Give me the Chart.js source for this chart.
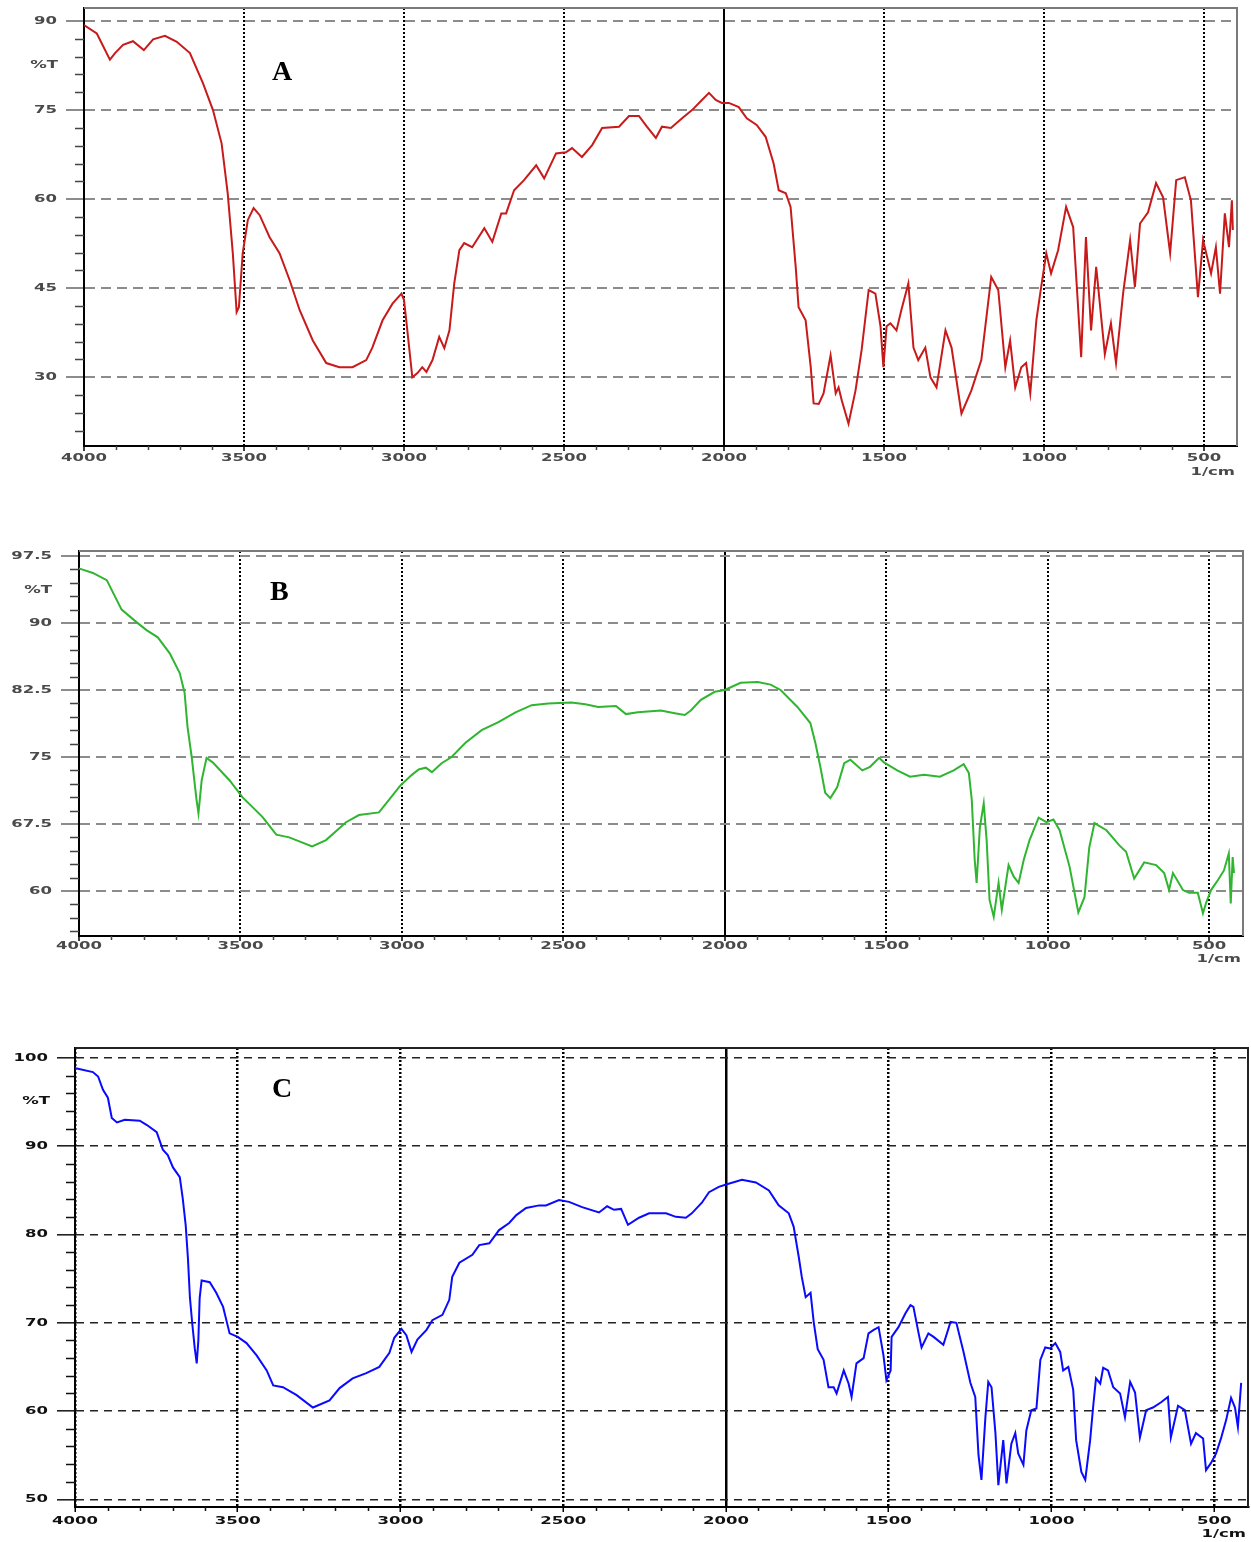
<!DOCTYPE html>
<html>
<head>
<meta charset="utf-8">
<title>FTIR spectra A, B, C</title>
<script src="https://cdn.jsdelivr.net/npm/chart.js@4.4.0/dist/chart.umd.min.js"></script>
<style>
  html, body { margin: 0; padding: 0; background: #fff; }
  body { position: relative; width: 1251px; height: 1542px; overflow: hidden; }
  canvas { position: absolute; left: 0; }
</style>
</head>
<body>
<canvas id="chartA" width="1251" height="483" style="top:0px"></canvas>
<canvas id="chartB" width="1251" height="430" style="top:540px"></canvas>
<canvas id="chartC" width="1251" height="502" style="top:1040px"></canvas>
<script>
// tick labels
const xTicks = [500, 1000, 1500, 2000, 2500, 3000, 3500, 4000];
const yTicksA = [30, 45, 60, 75, 90];
const yTicksB = [60, 67.5, 75, 82.5, 90, 97.5];
const yTicksC = [50, 60, 70, 80, 90, 100];

// spectrum A (wavenumber, %T)
const wnA = [4000, 3960, 3919, 3903, 3878, 3847, 3813, 3784, 3747, 3710, 3669, 3628, 3597, 3570, 3551, 3535, 3523, 3516, 3504, 3488,
  3470, 3451, 3420, 3389, 3357, 3326, 3285, 3243, 3202, 3161, 3118, 3099, 3067, 3036, 3008, 3000, 2993, 2974, 2958, 2943,
  2930, 2911, 2890, 2874, 2858, 2843, 2827, 2812, 2787, 2749, 2724, 2696, 2681, 2656, 2625, 2587, 2562, 2525, 2494, 2475,
  2444, 2412, 2381, 2328, 2297, 2266, 2241, 2213, 2194, 2166, 2132, 2100, 2069, 2047, 2026, 2007, 1985, 1954, 1929, 1898,
  1870, 1845, 1829, 1807, 1792, 1776, 1767, 1745, 1729, 1720, 1704, 1689, 1667, 1651, 1642, 1632, 1611, 1589, 1570, 1548,
  1527, 1511, 1502, 1492, 1480, 1461, 1446, 1424, 1408, 1393, 1371, 1355, 1336, 1308, 1289, 1258, 1227, 1196, 1165, 1143,
  1121, 1106, 1090, 1071, 1056, 1043, 1024, 1009, 993, 978, 956, 931, 909, 884, 869, 853, 837, 810, 791, 775,
  753, 731, 716, 700, 675, 650, 628, 606, 587, 560, 541, 519, 503, 478, 463, 450, 435, 422, 413, 410];
const tA = [89.3, 87.9, 83.5, 84.6, 86.0, 86.6, 85.1, 86.9, 87.5, 86.5, 84.6, 79.5, 75.0, 69.4, 61.0, 50.9, 41.0, 41.8, 50.9, 56.5,
  58.5, 57.3, 53.6, 50.9, 46.3, 41.3, 36.2, 32.4, 31.7, 31.7, 32.9, 35.0, 39.6, 42.4, 44.1, 43.0, 39.6, 30.0, 30.7, 31.7,
  30.9, 32.9, 36.8, 34.9, 37.9, 45.8, 51.4, 52.6, 51.9, 55.1, 52.8, 57.6, 57.6, 61.5, 63.2, 65.7, 63.5, 67.7, 67.9, 68.6,
  67.1, 69.1, 72.0, 72.2, 74.0, 74.0, 72.2, 70.3, 72.2, 72.0, 73.6, 75.0, 76.7, 77.9, 76.7, 76.2, 76.2, 75.5, 73.6, 72.5,
  70.5, 66.0, 61.5, 61.0, 58.7, 48.6, 41.8, 39.6, 31.7, 25.6, 25.5, 27.3, 33.7, 27.3, 28.3, 26.1, 22.2, 27.8, 34.6, 44.7,
  44.1, 38.6, 31.7, 38.6, 39.1, 37.9, 41.3, 45.8, 35.0, 32.9, 35.0, 30.0, 28.3, 37.9, 35.0, 23.9, 27.8, 32.9, 46.9, 44.7,
  31.7, 36.2, 28.3, 31.7, 32.4, 27.3, 39.6, 45.2, 50.9, 47.5, 51.4, 58.7, 55.3, 33.4, 53.6, 37.9, 48.6, 33.9, 39.1, 32.4,
  44.1, 53.1, 45.2, 55.9, 57.8, 62.7, 60.3, 50.9, 63.2, 63.7, 59.8, 43.5, 53.1, 47.5, 51.9, 44.1, 57.6, 51.9, 59.8, 54.8];

// spectrum B
const wnB = [4000, 3991, 3957, 3914, 3868, 3822, 3791, 3756, 3719, 3688, 3673, 3664, 3651, 3636, 3630, 3620, 3605, 3586, 3534, 3494,
  3432, 3389, 3349, 3278, 3235, 3173, 3133, 3071, 3040, 3005, 2969, 2948, 2926, 2907, 2877, 2846, 2803, 2753, 2701, 2648,
  2598, 2547, 2475, 2432, 2392, 2337, 2306, 2269, 2198, 2155, 2124, 2105, 2074, 2031, 2000, 1951, 1898, 1858, 1827, 1775,
  1735, 1719, 1704, 1689, 1673, 1652, 1630, 1611, 1574, 1550, 1522, 1507, 1466, 1426, 1383, 1334, 1291, 1260, 1244, 1235,
  1226, 1220, 1210, 1198, 1189, 1180, 1167, 1152, 1142, 1121, 1105, 1090, 1074, 1056, 1028, 1004, 982, 963, 932, 905,
  886, 871, 855, 818, 778, 757, 732, 701, 664, 639, 624, 612, 581, 562, 535, 519, 510, 494, 473, 454,
  439, 433, 427, 423];
const tB = [96.1, 96.0, 95.6, 94.8, 91.5, 90.1, 89.2, 88.4, 86.6, 84.4, 82.2, 78.4, 75.0, 70.2, 68.7, 72.4, 74.9, 74.4, 72.4, 70.5,
  68.3, 66.3, 66.0, 65.0, 65.7, 67.7, 68.5, 68.8, 70.2, 71.8, 73.0, 73.6, 73.8, 73.3, 74.3, 75.0, 76.6, 78.0, 78.9, 80.0,
  80.8, 81.0, 81.1, 80.9, 80.6, 80.7, 79.8, 80.0, 80.2, 79.9, 79.7, 80.2, 81.4, 82.3, 82.5, 83.3, 83.4, 83.1, 82.5, 80.6,
  78.8, 76.5, 73.9, 71.0, 70.4, 71.6, 74.3, 74.7, 73.5, 73.9, 74.9, 74.4, 73.5, 72.8, 73.0, 72.8, 73.5, 74.2, 73.2, 70.2,
  63.5, 60.9, 67.1, 69.8, 65.7, 59.0, 57.1, 60.9, 57.9, 62.9, 61.6, 60.9, 63.5, 65.7, 68.2, 67.7, 68.0, 66.8, 62.7, 57.6,
  59.3, 64.9, 67.6, 66.8, 65.1, 64.4, 61.4, 63.2, 62.9, 62.0, 60.1, 62.0, 60.1, 59.8, 59.8, 57.5, 58.6, 60.1, 61.2, 62.3,
  64.2, 58.6, 63.8, 62.0];

// spectrum C
const wnC = [4000, 3994, 3945, 3929, 3914, 3899, 3887, 3871, 3847, 3801, 3779, 3749, 3730, 3715, 3699, 3678, 3669, 3660, 3653, 3647,
  3640, 3632, 3626, 3621, 3617, 3611, 3586, 3566, 3545, 3535, 3525, 3500, 3473, 3442, 3411, 3391, 3361, 3319, 3269, 3218,
  3187, 3147, 3105, 3065, 3034, 3019, 2997, 2982, 2966, 2948, 2920, 2902, 2871, 2850, 2841, 2819, 2779, 2758, 2727, 2697,
  2666, 2644, 2614, 2574, 2553, 2513, 2482, 2442, 2390, 2365, 2344, 2322, 2301, 2267, 2236, 2184, 2154, 2123, 2105, 2074,
  2052, 2022, 1997, 1951, 1908, 1868, 1838, 1807, 1792, 1776, 1767, 1755, 1740, 1730, 1718, 1700, 1685, 1669, 1660, 1638,
  1623, 1614, 1599, 1577, 1562, 1546, 1531, 1516, 1507, 1494, 1491, 1470, 1448, 1433, 1424, 1408, 1399, 1378, 1362, 1332,
  1310, 1292, 1270, 1249, 1234, 1224, 1215, 1203, 1194, 1184, 1172, 1163, 1148, 1138, 1123, 1111, 1102, 1086, 1077, 1062,
  1046, 1034, 1019, 1004, 988, 973, 964, 948, 933, 924, 908, 896, 881, 872, 863, 850, 841, 826, 810, 789,
  774, 758, 743, 728, 709, 688, 663, 642, 633, 611, 590, 571, 556, 534, 525, 510, 494, 479, 463, 448,
  436, 427, 417];
const tC = [98.8, 98.8, 98.4, 97.9, 96.4, 95.5, 93.2, 92.7, 93.0, 92.9, 92.4, 91.6, 89.6, 89.0, 87.6, 86.5, 84.1, 81.1, 77.3, 72.9,
  70.0, 67.1, 65.4, 68.0, 72.8, 74.8, 74.6, 73.4, 71.8, 70.3, 68.8, 68.4, 67.7, 66.3, 64.6, 62.9, 62.7, 61.8, 60.4, 61.2,
  62.6, 63.7, 64.3, 65.0, 66.6, 68.3, 69.3, 68.6, 66.7, 68.1, 69.2, 70.3, 70.9, 72.6, 75.2, 76.8, 77.7, 78.8, 79.0, 80.5,
  81.3, 82.2, 83.0, 83.3, 83.3, 83.9, 83.7, 83.1, 82.5, 83.2, 82.8, 82.9, 81.1, 81.9, 82.4, 82.4, 82.0, 81.9, 82.4, 83.6,
  84.8, 85.4, 85.7, 86.2, 85.9, 85.0, 83.3, 82.4, 80.9, 77.4, 75.2, 72.9, 73.4, 70.0, 67.0, 65.8, 62.7, 62.7, 62.0, 64.6,
  63.1, 61.6, 65.4, 66.0, 68.8, 69.2, 69.5, 66.3, 63.5, 64.6, 68.4, 69.5, 71.1, 72.0, 71.8, 68.8, 67.2, 68.8, 68.4, 67.5,
  70.1, 70.0, 66.7, 63.2, 61.6, 55.0, 52.2, 59.2, 63.3, 62.7, 57.5, 51.6, 56.7, 51.8, 56.3, 57.5, 55.2, 53.9, 57.8, 60.1,
  60.3, 65.8, 67.2, 67.1, 67.7, 66.7, 64.6, 65.0, 62.4, 56.7, 53.1, 52.2, 56.7, 60.4, 63.7, 63.1, 64.9, 64.6, 62.7, 62.0,
  59.3, 63.3, 62.1, 57.0, 60.1, 60.4, 61.0, 61.6, 57.0, 60.6, 60.1, 56.3, 57.5, 56.9, 53.3, 54.1, 55.2, 56.9, 59.0, 61.5,
  60.4, 58.2, 63.2];

// instrument-style labels are wide and squat: draw them stretched sideways
function wideText(ctx, text, x, y, align, sx) {
  ctx.save();
  ctx.translate(x, y);
  ctx.scale(sx, 1);
  ctx.textAlign = align;
  ctx.fillText(text, 0, 0);
  ctx.restore();
}

// extra marks: minor ticks, top/right frame, tick labels, %T, 1/cm and the panel letter
function decorPlugin(p) {
  return {
    id: "decor",
    afterDraw(chart) {
      const ctx = chart.ctx;
      const { left, right, top, bottom } = chart.chartArea;
      const xs = chart.scales.x;
      const ys = chart.scales.y;
      ctx.save();
      ctx.setLineDash([]);
      ctx.strokeStyle = p.frame;
      ctx.lineWidth = 2;
      ctx.beginPath();
      ctx.moveTo(left, top);
      ctx.lineTo(right, top);
      ctx.lineTo(right, bottom);
      ctx.stroke();

      ctx.strokeStyle = p.minorColor;
      ctx.lineWidth = 1.5;
      ctx.beginPath();
      for (let v = 600; v < 4000; v += 100) {
        if (v % 500 === 0) continue;
        const px = Math.round(xs.getPixelForValue(v)) + 0.5;
        ctx.moveTo(px, bottom);
        ctx.lineTo(px, bottom + 4);
      }
      for (let v = p.yMinorFrom; v < ys.max; v += p.yMinorStep) {
        if (p.yMajor.includes(v)) continue;
        const py = Math.round(ys.getPixelForValue(v)) + 0.5;
        ctx.moveTo(left - 9, py);
        ctx.lineTo(left, py);
      }
      ctx.stroke();

      ctx.fillStyle = p.textColor;
      ctx.font = p.labelFont;
      ctx.textBaseline = "middle";
      xs.ticks.forEach((t) => {
        wideText(ctx, String(t.value), xs.getPixelForValue(t.value), bottom + p.xLabOff, "center", p.sx);
      });
      ys.ticks.forEach((t) => {
        wideText(ctx, String(t.value), left - 27, ys.getPixelForValue(t.value), "right", p.sx);
      });
      wideText(ctx, "%T", p.pctX, p.pctY, "right", p.sx);
      wideText(ctx, "1/cm", right - 2, p.cmY, "right", p.sx);

      ctx.fillStyle = "#000";
      ctx.font = "bold 28px 'Liberation Serif'";
      ctx.textAlign = "left";
      ctx.textBaseline = "alphabetic";
      ctx.fillText(p.name, p.nameX, p.nameY);
      ctx.restore();
    }
  };
}

function makeSpectrum(p) {
  const points = p.wn.map((w, i) => ({ x: w, y: p.t[i] }));
  return new Chart(document.getElementById(p.id), {
    type: "line",
    data: {
      datasets: [{
        data: points,
        borderColor: p.color,
        borderWidth: 2,
        pointRadius: 0,
        tension: 0,
        fill: false
      }]
    },
    options: {
      responsive: false,
      animation: false,
      devicePixelRatio: 1,
      layout: { padding: { top: p.top, right: p.right, left: 0, bottom: 0 } },
      plugins: { legend: { display: false }, tooltip: { enabled: false } },
      scales: {
        x: {
          type: "linear",
          reverse: true,
          min: p.xMin,
          max: 4000,
          afterBuildTicks: (s) => { s.ticks = xTicks.map((v) => ({ value: v })); },
          afterFit: (s) => { s.height = p.bottomH; s.paddingLeft = 0; s.paddingRight = 0; },
          ticks: { display: false },
          grid: {
            color: "#000",
            lineWidth: p.vLine,
            tickLength: 5,
            tickColor: "#000",
            tickWidth: 1.5
          },
          border: {
            color: "#000",
            width: 2,
            dash: (ctx) => (ctx.tick && ctx.tick.value === 2000 ? [] : [2, 2])
          }
        },
        y: {
          type: "linear",
          min: p.yMin,
          max: p.yMax,
          afterBuildTicks: (s) => { s.ticks = p.yMajor.map((v) => ({ value: v })); },
          afterFit: (s) => { s.width = p.left; s.paddingTop = 0; s.paddingBottom = 0; },
          ticks: { display: false },
          grid: {
            color: p.hColor,
            lineWidth: p.hLine,
            tickLength: 18,
            tickColor: p.hColor,
            tickWidth: p.hLine
          },
          border: {
            color: "#000",
            width: 2,
            dash: p.hDash
          }
        }
      }
    },
    plugins: [decorPlugin(p)]
  });
}

makeSpectrum({
  id: "chartA", name: "A", wn: wnA, t: tA, color: "#c81a1a",
  xMin: 397, yMin: 18.43, yMax: 92.19, yMajor: yTicksA, yMinorFrom: 21, yMinorStep: 3,
  left: 84, top: 8, right: 14, bottomH: 37, xLabOff: 12,
  labelFont: "bold 10px 'DejaVu Sans'", sx: 1.65,
  hColor: "#8c8c8c", hLine: 2, hDash: [10, 6], vLine: 2,
  frame: "#7a7a7a", minorColor: "#444", textColor: "#4a4a4a",
  pctX: 58, pctY: 65, cmY: 472, nameX: 272, nameY: 80
});

makeSpectrum({
  id: "chartB", name: "B", wn: wnB, t: tB, color: "#2fb52f",
  xMin: 395, yMin: 54.96, yMax: 98.06, yMajor: yTicksB, yMinorFrom: 55.5, yMinorStep: 1.5,
  left: 79, top: 11, right: 8, bottomH: 34, xLabOff: 10,
  labelFont: "bold 10px 'DejaVu Sans'", sx: 1.65,
  hColor: "#8c8c8c", hLine: 2, hDash: [10, 6], vLine: 2,
  frame: "#7a7a7a", minorColor: "#444", textColor: "#4a4a4a",
  pctX: 52, pctY: 50, cmY: 419, nameX: 270, nameY: 60
});

makeSpectrum({
  id: "chartC", name: "C", wn: wnC, t: tC, color: "#0a0aff",
  xMin: 396, yMin: 49.13, yMax: 101.13, yMajor: yTicksC, yMinorFrom: 50, yMinorStep: 2,
  left: 75, top: 8, right: 3, bottomH: 35, xLabOff: 14,
  labelFont: "bold 11px 'DejaVu Sans'", sx: 1.5,
  hColor: "#222", hLine: 1.6, hDash: [8, 6], vLine: 2.5,
  frame: "#222", minorColor: "#111", textColor: "#111",
  pctX: 50, pctY: 61, cmY: 494, nameX: 272, nameY: 57
});
</script>
</body>
</html>
